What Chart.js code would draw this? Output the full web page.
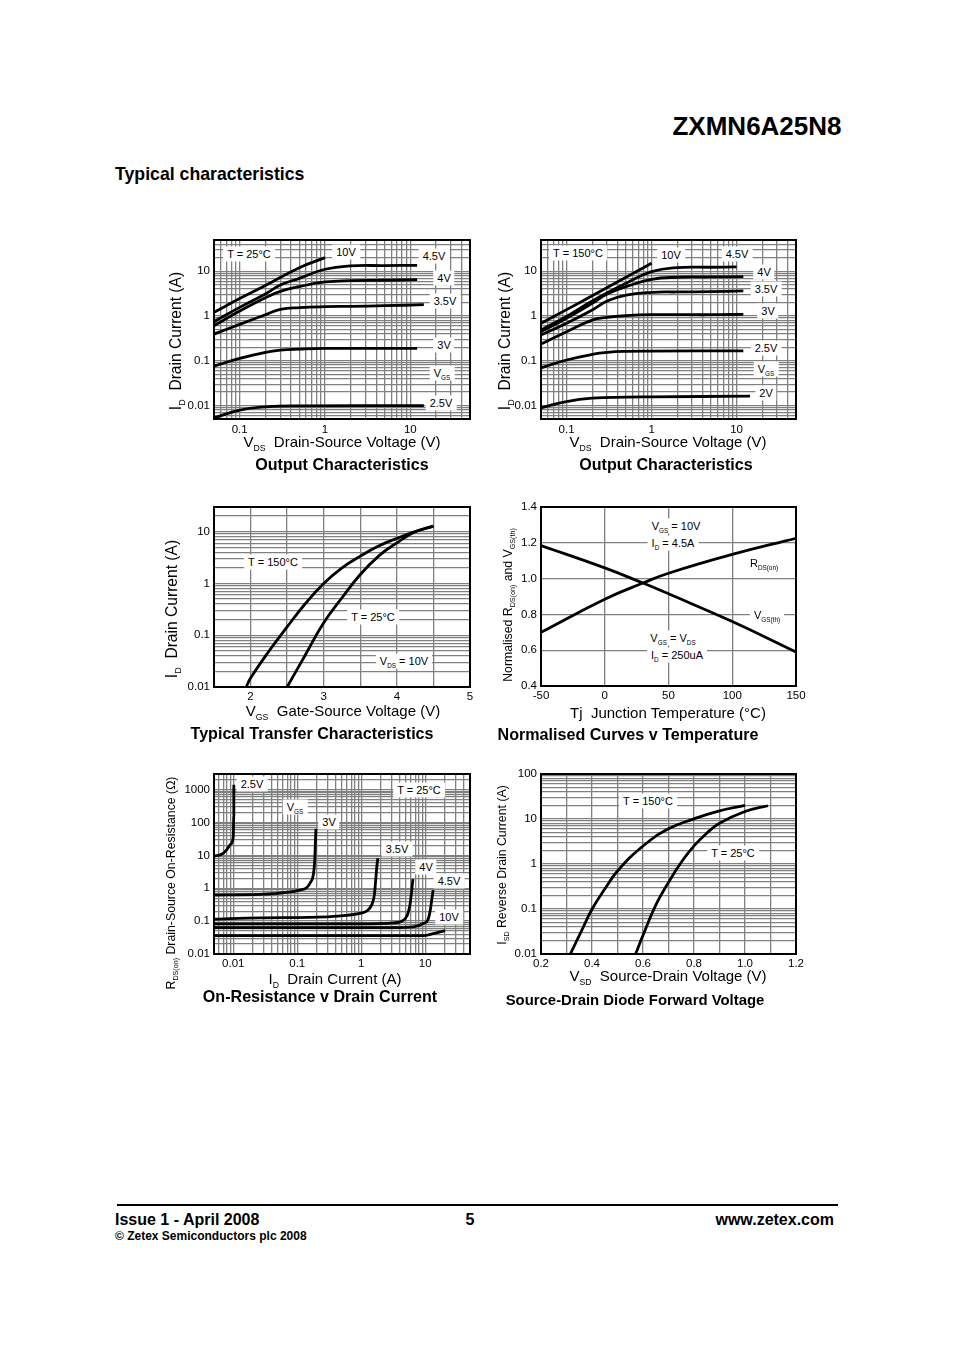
<!DOCTYPE html>
<html><head><meta charset="utf-8">
<script src="https://cdn.jsdelivr.net/npm/chart.js@4/dist/chart.umd.min.js"></script>
<style>
html,body{margin:0;padding:0;background:#fff;}
body{position:relative;width:954px;height:1350px;overflow:hidden;font-family:"Liberation Sans",Arial,sans-serif;color:#000;}
canvas{position:absolute;display:block;}
.t{position:absolute;white-space:pre;line-height:1;}
.c{transform:translate(-50%,-50%);}
.r{transform:translate(-50%,-50%) rotate(-90deg);}
.note{background:#fff;padding:2px 4px;font-size:11px;}
.t sub{font-size:.58em;vertical-align:baseline;position:relative;top:.42em;line-height:0;}
</style></head><body>
<div id="page"></div>
<script>
// ---------- chart 1: output characteristics, 25 C ----------
const out25X_10V=[0.05,0.1,0.2,0.5,1];
const out25Y_10V=[1.21,2.45,4.8,12,20.2];
const out25X_rest=[0.05,0.1,0.2,0.3,0.5,1,2,5,12];
const out25Y_45V=[0.746,1.56,3.11,4.94,6.96,11.1,13.2,13.4,13.6];
const out25Y_4V=[0.608,1.29,2.57,3.56,4.54,5.77,6.18,6.3,6.5];
const out25X_35V=[0.05,0.1,0.2,0.3,0.5,1,2,5,14.4];
const out25Y_35V=[0.395,0.65,1.07,1.41,1.54,1.62,1.65,1.70,1.79];
const out25X_3V=[0.05,0.1,0.2,0.3,0.5,1,5,12];
const out25Y_3V=[0.076,0.113,0.155,0.173,0.182,0.189,0.189,0.19];
const out25X_25V=[0.05,0.1,0.2,0.5,14.4];
const out25Y_25V=[0.0053,0.0079,0.0093,0.0098,0.01];
// ---------- chart 2: output characteristics, 150 C ----------
const out150X_10V=[0.05,0.1,0.2,0.5,1];
const out150Y_10V=[0.686,1.39,2.85,7.35,15.1];
const out150X_45V=[0.05,0.1,0.2,0.5,1,2,5,10];
const out150Y_45V=[0.486,0.98,2.17,5.38,9.8,12.1,12.3,12.5];
const out150X_rest=[0.05,0.1,0.2,0.3,0.5,1,2,5,12];
const out150Y_4V=[0.445,0.887,1.92,3.11,4.54,6.6,7.35,7.47,7.6];
const out150Y_35V=[0.376,0.686,1.36,2.17,2.95,3.39,3.45,3.51,3.63];
const out150X_3V=[0.05,0.1,0.2,0.3,0.5,1,5,12];
const out150Y_3V=[0.236,0.445,0.81,0.933,1.02,1.07,1.07,1.09];
const out150X_25V=[0.05,0.1,0.2,0.3,0.5,1,12];
const out150Y_25V=[0.0697,0.104,0.139,0.154,0.162,0.164,0.167];
const out150X_2V=[0.05,0.1,0.2,0.5,1,14.4];
const out150Y_2V=[0.0089,0.0123,0.0146,0.0154,0.0156,0.0162];
// ---------- chart 3: transfer ----------
const xferX150=[1.94,2,2.25,2.5,2.75,3,3.25,3.5,3.75,4,4.25,4.5];
const xferY150=[0.01,0.0149,0.049,0.145,0.41,1.0,2.0,3.37,5.3,7.43,10,12.8];
const xferX25=[2.5,2.75,3,3.25,3.5,3.75,4,4.25,4.5];
const xferY25=[0.01,0.042,0.174,0.53,1.49,3.38,6.1,10,12.8];
// ---------- chart 4: normalised vs temperature ----------
const tempX=[-50,0,30,50,100,150];
const tempRds=[0.70,0.885,0.975,1.03,1.135,1.225];
const tempVgs=[1.185,1.06,0.975,0.915,0.76,0.59];
// ---------- chart 5: on-resistance ----------
const rdsX_25=[0.005,0.00658,0.00787,0.00908,0.01,0.0102,0.0102];
const rdsY_25=[9.6,10.8,14.7,21.9,37.5,172,1420];
const rdsX_3=[0.005,0.0261,0.068,0.11,0.14,0.161,0.178,0.187,0.193,0.196];
const rdsY_3=[0.62,0.65,0.748,0.881,1.04,1.51,2.53,6.46,33.3,64];
const rdsX_35=[0.005,0.0261,0.287,0.953,1.21,1.45,1.6,1.69,1.76,1.82];
const rdsY_35=[0.115,0.126,0.135,0.171,0.201,0.307,0.62,2.0,5.1,8.2];
const rdsX_4=[0.005,0.1,1,3.16,4.27,5.24,5.75,6.11,6.41];
const rdsY_4=[0.0824,0.0824,0.0824,0.0885,0.0995,0.152,0.307,0.783,1.91];
const rdsX_45=[0.005,0.1,3.16,6.5,9.3,11.1,12.1,12.7,13.3];
const rdsY_45=[0.0637,0.0637,0.0637,0.0668,0.0845,0.115,0.243,0.49,0.88];
const rdsX_10=[0.005,0.1,9.3,13.3,20.3];
const rdsY_10=[0.0363,0.0363,0.0363,0.0418,0.0516];
// ---------- chart 6: diode forward ----------
const sdX150=[0.315,0.36,0.4,0.45,0.5,0.6,0.7,0.8,0.9,1.0];
const sdY150=[0.01,0.0337,0.099,0.277,0.698,2.51,6.04,10.1,15.2,20];
const sdX25=[0.571,0.6,0.65,0.7,0.75,0.8,0.85,0.9,1.0,1.09];
const sdY25=[0.01,0.026,0.122,0.39,1.09,2.52,4.83,8.07,14.7,19.7];
// ---------- tick labels ----------
const decadeLabels=[0.01,0.1,1,10];
const xDecadeLabels=[0.1,1,10];
const rdsXLabels=[0.01,0.1,1,10];
const rdsYLabels=[0.01,0.1,1,10,100,1000];
const sdYLabels=[0.01,0.1,1,10,100];
const xferXGrid=[1.5,2,2.5,3,3.5,4,4.5,5];
const xferXLabels=[2,3,4,5];
const tempXGrid=[-50,0,50,100,150];
const tempYGrid=[0.4,0.6,0.8,1.0,1.2,1.4];
const sdXGrid=[0.2,0.3,0.4,0.5,0.6,0.7,0.8,0.9,1.0,1.1,1.2];
const sdXLabels=[0.2,0.4,0.6,0.8,1.0,1.2];

function series(name,xs,ys){return {label:name,data:xs.map((x,i)=>({x:x,y:ys[i]}))};}
function logGrid(min,max){
  const out=[];
  for(let k=-4;k<=4;k++)for(let m=1;m<=9;m++){
    const v=Number((m*Math.pow(10,k)).toPrecision(3));
    if(v>=min-1e-9&&v<=max+1e-9)out.push(v);
  }
  return out;
}
const same=(a,b)=>Math.abs(a-b)<1e-9*Math.max(1,Math.abs(b));
const GRID='#808080';
function axis(o,isX,size){
  return {
    type:o.log?'logarithmic':'linear',min:o.min,max:o.max,
    afterBuildTicks(s){s.ticks=o.grid.map(v=>({value:v}));},
    afterFit(s){if(isX)s.height=size;else s.width=size;},
    border:{display:false},
    grid:{color:GRID,lineWidth:1.3,drawTicks:false},
    ticks:{autoSkip:false,maxRotation:0,minRotation:0,padding:o.pad||(isX?3:4),color:'#000',
      font:{family:'"Liberation Sans"',size:11.5},
      callback(v){
        const hit=o.labels.find(l=>same(l,v));
        if(hit===undefined)return '';
        return o.fixed?hit.toFixed(o.fixed):String(hit);
      }}
  };
}
const frame={id:'frame',afterDatasetsDraw(c){
  const a=c.chartArea,g=c.ctx;g.save();g.strokeStyle='#000';g.lineWidth=2;
  g.strokeRect(a.left,a.top,a.right-a.left,a.bottom-a.top);g.restore();}};

const charts=[
 {box:[214,240,470,419],
  x:{log:1,min:0.05,max:50,grid:logGrid(0.05,50),labels:xDecadeLabels,pad:4},
  y:{log:1,min:0.005,max:50,grid:logGrid(0.005,50),labels:decadeLabels},
  data:[series('10V',out25X_10V,out25Y_10V),series('4.5V',out25X_rest,out25Y_45V),series('4V',out25X_rest,out25Y_4V),
        series('3.5V',out25X_35V,out25Y_35V),series('3V',out25X_3V,out25Y_3V),series('2.5V',out25X_25V,out25Y_25V)]},
 {box:[541,240,796,419],
  x:{log:1,min:0.05,max:50,grid:logGrid(0.05,50),labels:xDecadeLabels,pad:4},
  y:{log:1,min:0.005,max:50,grid:logGrid(0.005,50),labels:decadeLabels},
  data:[series('10V',out150X_10V,out150Y_10V),series('4.5V',out150X_45V,out150Y_45V),series('4V',out150X_rest,out150Y_4V),
        series('3.5V',out150X_rest,out150Y_35V),series('3V',out150X_3V,out150Y_3V),series('2.5V',out150X_25V,out150Y_25V),series('2V',out150X_2V,out150Y_2V)]},
 {box:[214,507,470,687],
  x:{min:1.5,max:5,grid:xferXGrid,labels:xferXLabels},
  y:{log:1,min:0.01,max:30,grid:logGrid(0.01,30),labels:decadeLabels},
  data:[series('T = 150°C',xferX150,xferY150),series('T = 25°C',xferX25,xferY25)]},
 {box:[541,507,796,686],
  x:{min:-50,max:150,grid:tempXGrid,labels:tempXGrid},
  y:{min:0.4,max:1.4,grid:tempYGrid,labels:tempYGrid,fixed:1},
  data:[series('RDS(on)',tempX,tempRds),series('VGS(th)',tempX,tempVgs)]},
 {box:[214,774,470,954],mono:true,
  x:{log:1,min:0.005,max:50,grid:logGrid(0.005,50),labels:rdsXLabels},
  y:{log:1,min:0.01,max:3000,grid:logGrid(0.01,3000),labels:rdsYLabels},
  data:[series('2.5V',rdsX_25,rdsY_25),series('3V',rdsX_3,rdsY_3),series('3.5V',rdsX_35,rdsY_35),
        series('4V',rdsX_4,rdsY_4),series('4.5V',rdsX_45,rdsY_45),series('10V',rdsX_10,rdsY_10)]},
 {box:[541,774,796,954],
  x:{min:0.2,max:1.2,grid:sdXGrid,labels:sdXLabels,fixed:1},
  y:{log:1,min:0.01,max:100,grid:logGrid(0.01,100),labels:sdYLabels},
  data:[series('T = 150°C',sdX150,sdY150),series('T = 25°C',sdX25,sdY25)]}
];
const M={l:50,t:12,r:14,b:24};
charts.forEach(ch=>{
  const [l,t,r,b]=ch.box;
  const cv=document.createElement('canvas');
  cv.width=r-l+M.l+M.r;cv.height=b-t+M.t+M.b;
  cv.style.left=(l-M.l)+'px';cv.style.top=(t-M.t)+'px';
  cv.style.width=cv.width+'px';cv.style.height=cv.height+'px';
  document.body.appendChild(cv);
  new Chart(cv,{type:'line',plugins:[frame],
    data:{datasets:ch.data.map(d=>({label:d.label,data:d.data,borderColor:'#000',borderWidth:2.8,pointRadius:0,
      fill:false,cubicInterpolationMode:ch.mono?'monotone':'default',tension:ch.mono?0:0.45,borderCapStyle:'butt'}))},
    options:{responsive:false,animation:false,devicePixelRatio:1,
      layout:{padding:{left:0,top:M.t,right:M.r,bottom:0}},
      plugins:{legend:{display:false},title:{display:false},tooltip:{enabled:false}},
      scales:{x:axis(ch.x,true,M.b),y:axis(ch.y,false,M.l)}}});
});

// ---------- page text ----------
const VGS='V<sub>GS</sub>',VDS='V<sub>DS</sub>',ID='I<sub>D</sub>';
// [html, centre x, centre y]
const notes=[
 ['T = 25°C',249,254],['10V',346,252],['4.5V',434,256],['4V',444,278],['3.5V',445,301],['3V',444,345],[VGS,442,373],['2.5V',441,403],
 ['T = 150°C',578,253],['10V',671,255],['4.5V',737,254],['4V',764,272],['3.5V',766,289],['3V',768,311],['2.5V',766,348],[VGS,766,369],['2V',766,393],
 ['T = 150°C',273,562],['T = 25°C',373,617],[VDS+' = 10V',404,661],
 [VGS+' = 10V',676,526],[ID+' = 4.5A',673,543],['R<sub>DS(on)</sub>',764,563],['V<sub>GS(th)</sub>',767,615],[VGS+' = '+VDS,673,638],[ID+' = 250uA',677,655],
 ['2.5V',252,784],[VGS,295,807],['3V',329,822],['3.5V',397,849],['4V',426,867],['4.5V',449,881],['10V',449,917],['T = 25°C',419,790],
 ['T = 150°C',648,801],['T = 25°C',733,853]
];
// [html, centre x, centre y, px size, rotated]
const axisTitles=[
 [VDS+'  Drain-Source Voltage (V)',342,441,15,0],[ID+'  Drain Current (A)',176,341,15.6,1],
 [VDS+'  Drain-Source Voltage (V)',668,441,15,0],[ID+'  Drain Current (A)',505,341,15.6,1],
 ['V<sub>GS</sub>  Gate-Source Voltage (V)',343,710,15,0],[ID+'  Drain Current (A)',172,609,15.6,1],
 ['Tj  Junction Temperature (°C)',668,712,15,0],['Normalised R<sub>DS(on)</sub> and V<sub>GS(th)</sub>',508,605,12.3,1],
 [ID+'  Drain Current (A)',335,978,15,0],['R<sub>DS(on)</sub> Drain-Source On-Resistance (Ω)',171,883,12.3,1],
 ['V<sub>SD</sub>  Source-Drain Voltage (V)',668,975,15,0],['I<sub>SD</sub> Reverse Drain Current (A)',502,865,12.3,1]
];
// [text, centre x, centre y, px size]
const chartTitles=[
 ['Output Characteristics',342,464,16.1],['Output Characteristics',666,464,16.1],
 ['Typical Transfer Characteristics',312,733,16.1],['Normalised Curves v Temperature',628,734,16.1],
 ['On-Resistance v Drain Current',320,996,16.1],['Source-Drain Diode Forward Voltage',635,1000,14.9]
];
// [text, x, centre y, px size, align]
const pageText=[
 ['ZXMN6A25N8',757,126,26,'c'],['Typical characteristics',115,175,17.7,'l'],
 ['Issue 1 - April 2008',115,1220,16,'l'],['5',470,1220,16,'c'],['www.zetex.com',834,1220,16,'r'],
 ['© Zetex Semiconductors plc 2008',115,1236,12,'l']
];
function put(html,x,y,cls,css){
  const d=document.createElement('div');d.className='t '+cls;d.innerHTML=html;
  d.style.left=x+'px';d.style.top=y+'px';Object.assign(d.style,css||{});document.body.appendChild(d);return d;
}
notes.forEach(n=>put(n[0],n[1],n[2],'c note'));
axisTitles.forEach(a=>put(a[0],a[1],a[2],a[4]?'r':'c',{fontSize:a[3]+'px'}));
chartTitles.forEach(a=>put(a[0],a[1],a[2],'c',{fontSize:a[3]+'px',fontWeight:'bold'}));
pageText.forEach(p=>{
  const tf=p[4]==='c'?'translate(-50%,-50%)':p[4]==='r'?'translate(-100%,-50%)':'translateY(-50%)';
  put(p[0],p[1],p[2],'',{fontSize:p[3]+'px',fontWeight:'bold',transform:tf});
});
const rule=document.createElement('div');
rule.style.cssText='position:absolute;left:117px;top:1204px;width:721px;height:2px;background:#000';
document.body.appendChild(rule);
</script>
</body></html>
